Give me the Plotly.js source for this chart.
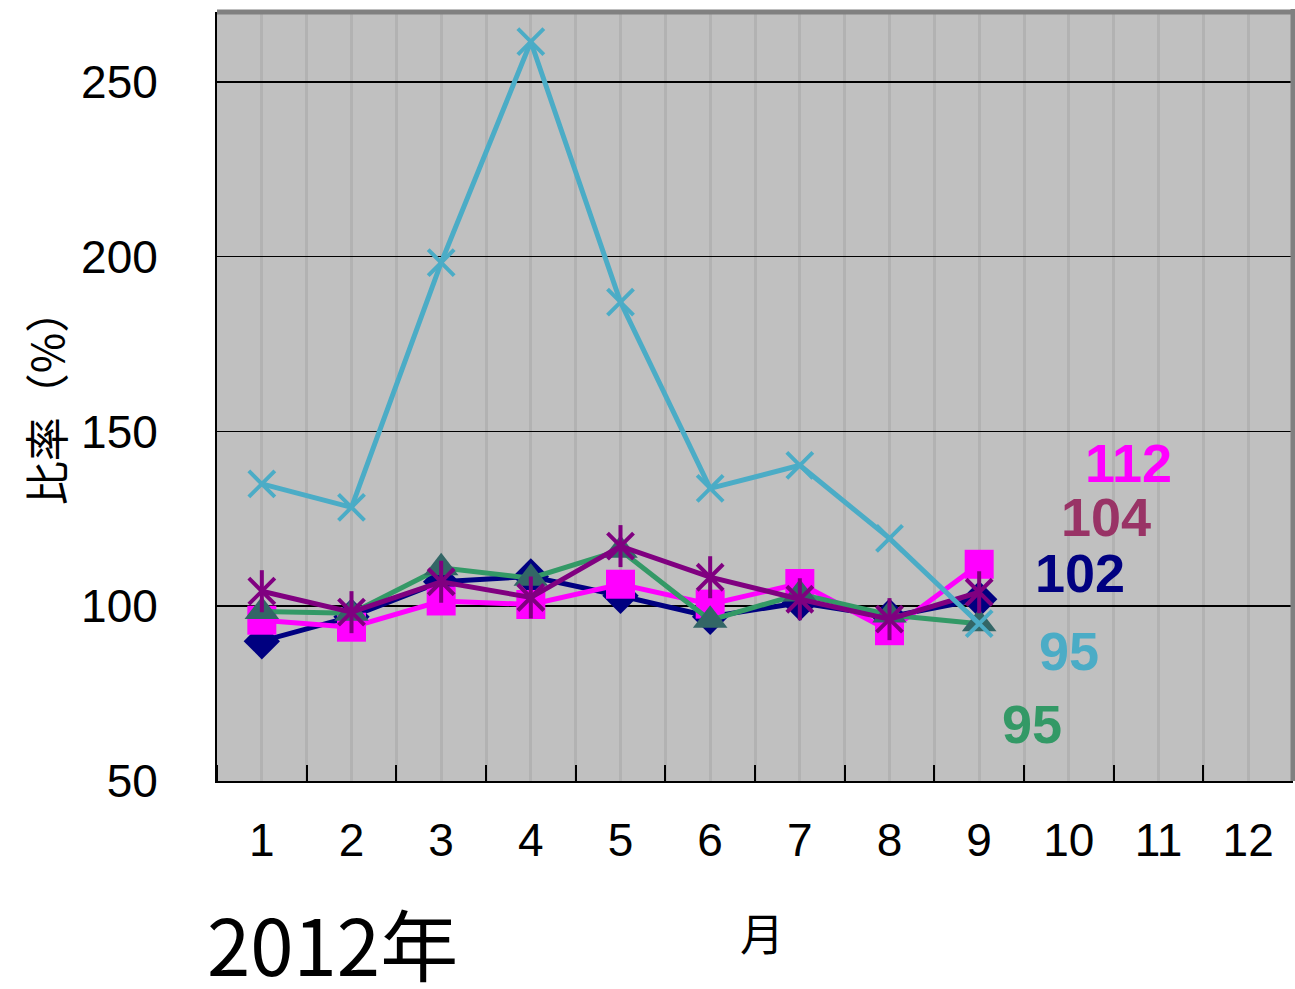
<!DOCTYPE html>
<html>
<head>
<meta charset="utf-8">
<script src="https://cdn.plot.ly/plotly-3.0.1.min.js"></script>
<style>html,body{margin:0;padding:0;background:#fff;}#chart{width:1295px;height:989px;}</style>
</head>
<body>
<div id="chart"></div>
<script>
// ---- data ----
const months = [1, 2, 3, 4, 5, 6, 7, 8, 9, 10, 11, 12];
const monthLabels = ["1", "2", "3", "4", "5", "6", "7", "8", "9", "10", "11", "12"];
const seriesNavy    = [90, 97, 107, 108.5, 103, 97, 101, 97, 102];
const seriesMagenta = [96, 94, 101.5, 100.5, 106.3, 100.6, 106.5, 93, 112];
const seriesGreen   = [98.5, 98, 111, 108, 116, 96, 103.5, 97.5, 95];
const seriesPurple  = [104.3, 98.3, 107, 102.5, 117.2, 108.3, 102, 96.3, 104];
const seriesBlue    = [135, 128.3, 198.3, 261.5, 187, 133.7, 140.3, 119.4, 95];
const yTicks = [50, 100, 150, 200, 250];
const yTitle = "比率（%）";
const xTitle = "月";
const yearLabel = "2012年";

const xs = months.slice(0, 9);
const lineW = 5;

function lineTrace(y, color, symbol, mcolor, msize, open) {
  return {
    x: xs, y: y, type: 'scatter', mode: 'lines+markers',
    line: {color: color, width: lineW},
    marker: open
      ? {symbol: symbol, size: msize, color: mcolor, line: {color: mcolor, width: 4}}
      : {symbol: symbol, size: msize, color: mcolor, line: {width: 0}},
    hoverinfo: 'skip', showlegend: false
  };
}

const traces = [
  lineTrace(seriesNavy, '#000080', 'diamond', '#000080', 28, false),
  lineTrace(seriesMagenta, '#ff00ff', 'square', '#ff00ff', 29, false),
  lineTrace(seriesGreen, '#339966', 'triangle-up', '#336666', 30, false),
  lineTrace(seriesPurple, '#800080', 'x-thin-open', '#800080', 26, true),
  {x: xs, y: seriesPurple, type: 'scatter', mode: 'markers',
   marker: {symbol: 'line-ns-open', size: 30, color: '#800080', line: {color: '#800080', width: 4}},
   hoverinfo: 'skip', showlegend: false},
  lineTrace(seriesBlue, '#4bacc6', 'x-thin-open', '#4bacc6', 26, true)
];

const last = a => Math.round(a[a.length - 1]);
const labelFont = (c) => ({family: 'Liberation Sans, Arial, sans-serif', size: 54, color: c});

const annotations = [
  {x: 10.66, y: 140.9, xref: 'x', yref: 'y', text: '<b>' + last(seriesMagenta) + '</b>', showarrow: false, font: labelFont('#ff00ff')},
  {x: 10.41, y: 125.4, xref: 'x', yref: 'y', text: '<b>' + last(seriesPurple) + '</b>', showarrow: false, font: labelFont('#993366')},
  {x: 10.13, y: 109.4, xref: 'x', yref: 'y', text: '<b>' + last(seriesNavy) + '</b>', showarrow: false, font: labelFont('#000080')},
  {x: 10.00, y: 87.1, xref: 'x', yref: 'y', text: '<b>' + last(seriesBlue) + '</b>', showarrow: false, font: labelFont('#4bacc6')},
  {x: 9.59, y: 66.3, xref: 'x', yref: 'y', text: '<b>' + last(seriesGreen) + '</b>', showarrow: false, font: labelFont('#339966')},
  {x: -0.16, y: 0.5, xref: 'paper', yref: 'paper', xanchor: 'center', yanchor: 'middle',
   text: yTitle, textangle: -90, showarrow: false,
   font: {family: 'Noto Sans CJK JP, sans-serif', size: 44, color: '#000'}},
  {x: 0.5065, y: -0.196, xref: 'paper', yref: 'paper', xanchor: 'center', yanchor: 'middle',
   text: xTitle, showarrow: false,
   font: {family: 'Noto Sans CJK JP, sans-serif', size: 44, color: '#000'}},
  {x: 0.1078, y: -0.21, xref: 'paper', yref: 'paper', xanchor: 'center', yanchor: 'middle',
   text: yearLabel, showarrow: false,
   font: {family: 'Noto Sans CJK JP, sans-serif', size: 78, color: '#000'}}
];

const layout = {
  width: 1295, height: 989,
  margin: {l: 217, r: 2, t: 12, b: 208, pad: 0},
  paper_bgcolor: '#ffffff',
  plot_bgcolor: '#c0c0c0',
  showlegend: false,
  xaxis: {
    range: [0.5, 12.5], tickmode: 'array', tickvals: months, ticktext: monthLabels,
    ticks: '', showgrid: true, gridcolor: '#b2b2b2', gridwidth: 3,
    zeroline: false, showline: true, linecolor: '#000', linewidth: 2,
    ticklabelstandoff: 18,
    tickfont: {family: 'Liberation Sans, Arial, sans-serif', size: 46, color: '#000'},
    minor: {tick0: 0.5, dtick: 1, ticks: 'inside', ticklen: 16, tickwidth: 2, tickcolor: '#000',
            showgrid: true, gridcolor: '#b2b2b2', gridwidth: 3}
  },
  yaxis: {
    range: [50, 270], tickmode: 'array', tickvals: yTicks,
    ticks: '', showgrid: true, gridcolor: '#000', gridwidth: 1.5,
    zeroline: false, showline: true, linecolor: '#000', linewidth: 2,
    ticklabelstandoff: 48,
    tickfont: {family: 'Liberation Sans, Arial, sans-serif', size: 46, color: '#000'}
  },
  shapes: [
    {type: 'line', xref: 'paper', yref: 'paper', x0: 0, x1: 1.002, y0: 1, y1: 1, line: {color: '#808080', width: 5}},
    {type: 'line', xref: 'paper', yref: 'paper', x0: 1, x1: 1, y0: 0, y1: 1.004, line: {color: '#808080', width: 5}}
  ],
  annotations: annotations
};

Plotly.newPlot('chart', traces, layout, {displayModeBar: false, staticPlot: true});
</script>
</body>
</html>
